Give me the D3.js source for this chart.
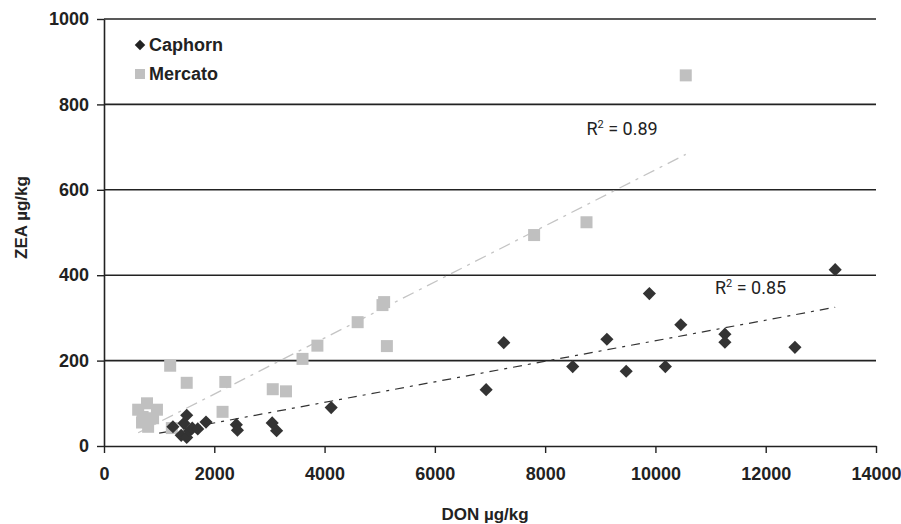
<!DOCTYPE html>
<html>
<head>
<meta charset="utf-8">
<script src="https://cdn.jsdelivr.net/npm/d3@7"></script>
<style>
  body { margin: 0; background: #fff; }
  text { font-family: "Liberation Sans Narrow", "Arial Narrow", "Liberation Sans", Arial, sans-serif; }
</style>
</head>
<body>
<div id="chart"></div>
<script>
// DON (x) and ZEA (y) values
const caphornDon = [1250, 1400, 1450, 1500, 1500, 1550, 1600, 1700, 1850, 2400, 2420, 3050, 3130, 4120,
                    6930, 7250, 8500, 9120, 9470, 9890, 10180, 10460, 11260, 11260, 12530, 13260];
const caphornZea = [45, 25, 53, 72, 20, 35, 42, 40, 56, 50, 37, 54, 36, 90,
                    132, 242, 186, 250, 175, 357, 186, 284, 262, 243, 231, 413];

const mercatoDon = [620, 690, 700, 780, 800, 890, 960, 1230, 1200, 1500, 2150, 2200, 3060, 3300,
                    3600, 3870, 4600, 5050, 5080, 5130, 7800, 8750, 10550];
const mercatoZea = [85, 55, 68, 100, 45, 65, 85, 42, 188, 148, 80, 150, 133, 128,
                    204, 235, 290, 330, 337, 234, 494, 524, 868];

// trend lines (linear fits) as [x, y] end values
const caphornTrendX = [1000, 13260];
const caphornTrendY = [30, 325];
const mercatoTrendX = [620, 10550];
const mercatoTrendY = [31, 683];

const xTicks = [0, 2000, 4000, 6000, 8000, 10000, 12000, 14000];
const yTicks = [0, 200, 400, 600, 800, 1000];

const W = 901, H = 524;
const margin = {top: 19, right: 25, bottom: 78, left: 104};
const width = W - margin.left - margin.right,
      height = H - margin.top - margin.bottom;

const svg = d3.select("#chart").append("svg")
  .attr("width", W).attr("height", H)
  .append("g")
  .attr("transform", `translate(${margin.left},${margin.top})`);

const x = d3.scaleLinear().domain([0, 14000]).range([0, width]);
const y = d3.scaleLinear().domain([0, 1000]).range([height, 0]);

// gridlines
svg.selectAll(".grid")
  .data(yTicks.filter(d => d > 0))
  .enter().append("line")
  .attr("x1", 0).attr("x2", width)
  .attr("y1", d => y(d)).attr("y2", d => y(d))
  .attr("stroke", "#222").attr("stroke-width", 1.6);

// axes
const xAxis = svg.append("g")
  .attr("transform", `translate(0,${height})`)
  .call(d3.axisBottom(x).tickValues(xTicks).tickFormat(d3.format("d"))
    .tickSize(7).tickSizeOuter(0).tickPadding(14));
const yAxis = svg.append("g")
  .call(d3.axisLeft(y).tickValues(yTicks).tickFormat(d3.format("d"))
    .tickSize(7).tickSizeOuter(0).tickPadding(8));

[xAxis, yAxis].forEach(a => {
  a.select(".domain").attr("stroke", "#222").attr("stroke-width", 1.6);
  a.selectAll(".tick line").attr("stroke", "#222").attr("stroke-width", 1.4);
  a.selectAll("text")
    .style("font-size", "18px").style("font-weight", "bold")
    .style("font-family", "'Liberation Sans Narrow', 'Arial Narrow', 'Liberation Sans', Arial, sans-serif")
    .attr("fill", "#222");
});

// trend lines
svg.append("line")
  .attr("x1", x(mercatoTrendX[0])).attr("y1", y(mercatoTrendY[0]))
  .attr("x2", x(mercatoTrendX[1])).attr("y2", y(mercatoTrendY[1]))
  .attr("stroke", "#c4c4c4").attr("stroke-width", 1.3)
  .attr("stroke-dasharray", "12,6,3,6");

svg.append("line")
  .attr("x1", x(caphornTrendX[0])).attr("y1", y(caphornTrendY[0]))
  .attr("x2", x(caphornTrendX[1])).attr("y2", y(caphornTrendY[1]))
  .attr("stroke", "#333").attr("stroke-width", 1.2)
  .attr("stroke-dasharray", "9,6,3,6");

// points
const mercato = mercatoDon.map((d, i) => ({don: d, zea: mercatoZea[i]}));
const caphorn = caphornDon.map((d, i) => ({don: d, zea: caphornZea[i]}));

svg.selectAll(".merc")
  .data(mercato)
  .enter().append("rect")
  .attr("class", "merc")
  .attr("x", d => x(d.don) - 6).attr("y", d => y(d.zea) - 6)
  .attr("width", 12).attr("height", 12)
  .attr("fill", "#c0c0c0");

const diamond = d3.symbol().type(d3.symbolDiamond2).size(110);
svg.selectAll(".cap")
  .data(caphorn)
  .enter().append("path")
  .attr("class", "cap")
  .attr("transform", d => `translate(${x(d.don)},${y(d.zea)})`)
  .attr("d", diamond)
  .attr("fill", "#333");

// legend
const legend = svg.append("g").attr("transform", "translate(36,26)");
legend.append("path")
  .attr("d", d3.symbol().type(d3.symbolDiamond2).size(70))
  .attr("fill", "#222");
legend.append("text").attr("x", 9).attr("y", 6)
  .style("font-size", "18px").style("font-weight", "bold").attr("fill", "#222")
  .text("Caphorn");
legend.append("rect").attr("x", -5).attr("y", 24).attr("width", 10).attr("height", 10)
  .attr("fill", "#c0c0c0");
legend.append("text").attr("x", 9).attr("y", 35)
  .style("font-size", "18px").style("font-weight", "bold").attr("fill", "#222")
  .text("Mercato");

// R² labels
function r2Label(px, py, val) {
  const t = svg.append("text").attr("x", px).attr("y", py)
    .style("font-size", "18px").attr("fill", "#222")
    .style("font-family", "Roboto, 'Liberation Sans', sans-serif");
  t.append("tspan").text("R");
  t.append("tspan").attr("dy", -7).style("font-size", "11px").text("2");
  t.append("tspan").attr("dy", 7).text(" = " + val);
}
r2Label(x(8750), y(728), "0.89");
r2Label(x(11080), y(357), "0.85");

// axis titles
svg.append("text")
  .attr("x", width / 2 - 5).attr("y", height + 74)
  .attr("text-anchor", "middle")
  .style("font-size", "17px").style("font-weight", "bold").attr("fill", "#222")
  .text("DON µg/kg");

svg.append("text")
  .attr("transform", `translate(${-77},${height / 2 - 15}) rotate(-90)`)
  .attr("text-anchor", "middle")
  .style("font-size", "17px").style("font-weight", "bold").attr("fill", "#222")
  .text("ZEA µg/kg");
</script>
</body>
</html>
